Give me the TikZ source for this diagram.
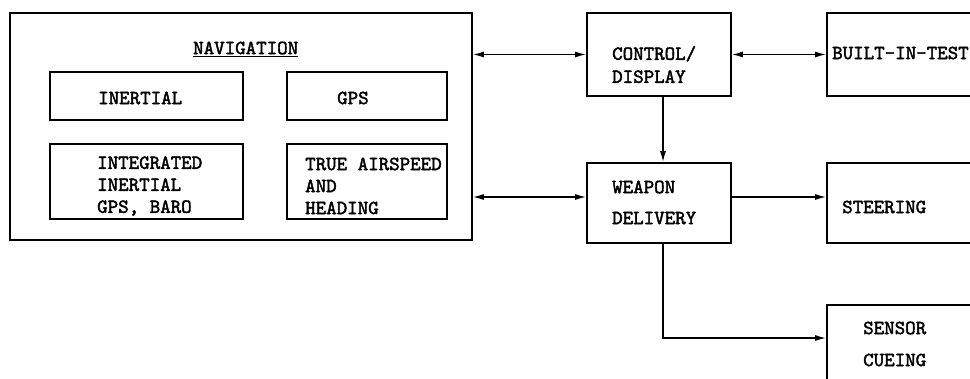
\documentclass[tikz,border=0pt]{standalone}
\usepackage{fontspec}
\setmonofont{lmmono10-regular.otf}[AutoFakeBold=2]
\usetikzlibrary{arrows.meta}

\tikzset{
    blk/.style={draw, line width=1.6pt, inner sep=0pt},
    txt/.style={font=\ttfamily\bfseries\fontsize{20}{22}\selectfont, align=left, inner sep=0pt, anchor=west},
    link/.style={line width=1.5pt, -{Latex[length=11pt,width=6pt]}},
    dlink/.style={line width=1.5pt, {Latex[length=11pt,width=6pt]}-{Latex[length=11pt,width=6pt]}}
}

\begin{document}
\begin{tikzpicture}[x=1pt, y=-1pt]
    \useasboundingbox (0,0) rectangle (970,379);
    \clip (0,0) rectangle (970,379);

    % Draw boxes
    \node[blk, minimum width=462pt, minimum height=227pt] (nav) at (241,126.5) {};
    \node[txt] (navtitle) at (193,49) {\underline{NAVIGATION}};
    \node[blk, minimum width=193pt, minimum height=48pt] (inert) at (146.5,96) {};
    \node[blk, minimum width=160pt, minimum height=48pt] (gps) at (367,96) {};
    \node[blk, minimum width=193pt, minimum height=75pt] (integ) at (146.5,181.5) {};
    \node[blk, minimum width=160pt, minimum height=75pt] (tas) at (367,181.5) {};
    \node[blk, minimum width=144pt, minimum height=83pt] (ctrl) at (659,54.5) {};
    \node[blk, minimum width=162pt, minimum height=83pt] (bit) at (908,54.5) {};
    \node[blk, minimum width=144pt, minimum height=80pt] (wpn) at (659,203) {};
    \node[blk, minimum width=162pt, minimum height=80pt] (steer) at (908,203) {};
    \node[blk, minimum width=162pt, minimum height=90pt] (sens) at (908,350) {};

    % Texts
    \node[txt] (inerttxt) at (98,98) {INERTIAL};
    \node[txt] (gpstxt) at (337,98) {GPS};
    \node[txt] (integtxt) at (97,186) {INTEGRATED\\INERTIAL\\GPS, BARO};
    \node[txt] (tastxt) at (305,186) {TRUE AIRSPEED\\AND\\HEADING};
    \node[txt] (ctrltxt) at (612,64.5) {CONTROL/\\[1pt]DISPLAY};
    \node[txt] (bittxt) at (832,53) {BUILT-IN-TEST};
    \node[txt] (wpntxt) at (612,202.5) {WEAPON\\[9pt]DELIVERY};
    \node[txt] (steertxt) at (842,207) {STEERING};
    \node[txt] (senstxt) at (863,344) {SENSOR\\[10pt]CUEING};

    % Connectors
    \draw[dlink] (ctrl.west -| nav.east) -- (ctrl.west);
    \draw[dlink] ([yshift=6pt]wpn.west -| nav.east) -- ([yshift=6pt]wpn.west);
    \draw[dlink] (ctrl.east) -- (bit.west);
    \draw[link] ([xshift=4pt]ctrl.south) -- ([xshift=4pt]wpn.north);
    \draw[link] ([yshift=6pt]wpn.east) -- ([yshift=6pt]wpn.east -| steer.west);
    \draw[link] ([xshift=4pt]wpn.south) |- ([yshift=12pt]sens.west);
\end{tikzpicture}
\end{document}
